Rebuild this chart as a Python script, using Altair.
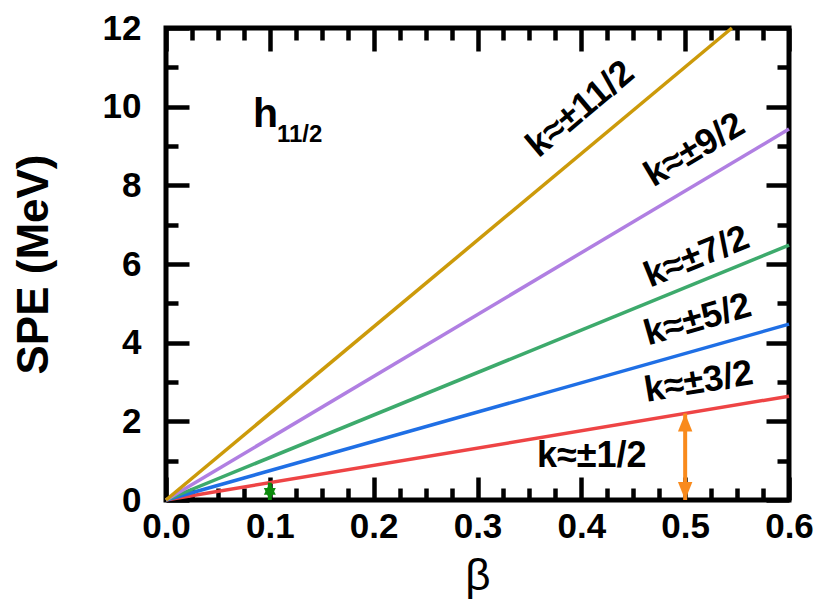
import altair as alt
import pandas as pd

# ---------------- data ----------------
line_k = ["3/2", "5/2", "7/2", "9/2", "11/2"]
line_beta_end = [0.6, 0.6, 0.6, 0.6, 0.545]
line_spe_end = [2.64, 4.47, 6.48, 9.43, 12.0]
line_colors = ["#EE4445", "#1F6FE5", "#3DAA6C", "#B07FE2", "#CC9A0A"]

label_text = ["k≈±11/2", "k≈±9/2", "k≈±7/2", "k≈±5/2", "k≈±3/2", "k≈±1/2"]
label_beta = [0.399, 0.509, 0.511, 0.512, 0.513, 0.410]
label_spe = [9.94, 8.90, 6.18, 4.58, 3.00, 1.12]
label_angle = [320, 329, 338, 344, 350.5, 0]

orange_beta = [0.5]
orange_low = [0.0]
orange_high = [2.2]
green_beta = [0.1]
green_low = [0.0]
green_high = [0.44]

x_major = [0.0, 0.1, 0.2, 0.3, 0.4, 0.5, 0.6]
x_minor = [0.025, 0.05, 0.075, 0.125, 0.15, 0.175, 0.225, 0.25, 0.275,
           0.325, 0.35, 0.375, 0.425, 0.45, 0.475, 0.525, 0.55, 0.575]
y_major = [0, 2, 4, 6, 8, 10, 12]
y_minor = [1, 3, 5, 7, 9, 11]

# ---------------- layout ----------------
W, H = 623, 472
FONT = "Liberation Sans"
MAJ, MIN = 23, 12
TW = 4.5

xs = alt.Scale(domain=[0.0, 0.6], nice=False, zero=False)
ys = alt.Scale(domain=[0.0, 12.0], nice=False, zero=False)

label_style = dict(labelFont=FONT, labelFontSize=35, labelFontWeight="bold",
                   labelColor="black", titleFont=FONT, titleColor="black")
tick_style = dict(domain=False, grid=False, ticks=True, tickColor="black",
                  tickWidth=TW, tickOpacity=1)


def tick_axis(orient, vals, length):
    # ticks point inward: axis line moved inside the frame by the tick length
    return alt.Axis(orient=orient, values=vals, tickSize=length, offset=-length,
                    labels=False, title=None, **tick_style)


xb_major = alt.Axis(orient="bottom", values=x_major, format=".1f", title="β",
                    tickSize=MAJ, offset=-MAJ, labelPadding=9, labelFlush=False,
                    titlePadding=10, titleFontSize=44, titleFontWeight="normal",
                    **tick_style, **label_style)
yl_major = alt.Axis(orient="left", values=y_major, format="d", title="SPE (MeV)",
                    tickSize=MAJ, offset=-MAJ, labelPadding=25,
                    titlePadding=46, titleFontSize=44, titleFontWeight="bold",
                    **tick_style, **label_style)
xb_minor = tick_axis("bottom", x_minor, MIN)
yl_minor = tick_axis("left", y_minor, MIN)
xt_major = tick_axis("top", x_major, MAJ)
yr_major = tick_axis("right", y_major, MAJ)
xt_minor = tick_axis("top", x_minor, MIN)
yr_minor = tick_axis("right", y_minor, MIN)

rows = []
for k, xe, ye, c in zip(line_k, line_beta_end, line_spe_end, line_colors):
    rows.append({"k": k, "beta": 0.0, "spe": 0.0, "c": c})
    rows.append({"k": k, "beta": xe, "spe": ye, "c": c})
lines_df = pd.DataFrame(rows)

lines = alt.Chart(lines_df).mark_line(strokeWidth=3.5).encode(
    x=alt.X("beta:Q", scale=xs, axis=xb_major),
    y=alt.Y("spe:Q", scale=ys, axis=yl_major),
    color=alt.Color("c:N", scale=None),
    detail="k:N",
)

lab_df = pd.DataFrame({"beta": label_beta, "spe": label_spe, "t": label_text, "a": label_angle})
labels = alt.Chart(lab_df).mark_text(font=FONT, fontSize=36, fontWeight="bold",
                                     color="black", align="center", baseline="middle").encode(
    x=alt.X("beta:Q", scale=xs, axis=xb_minor),
    y=alt.Y("spe:Q", scale=ys, axis=yl_minor),
    text="t:N",
    angle=alt.Angle("a:Q", scale=None),
)

h_df = pd.DataFrame({"beta": [0.0838], "spe": [9.48], "t": ["h"]})
h_text = alt.Chart(h_df).mark_text(font=FONT, fontSize=41, fontWeight="bold", color="black",
                                   align="left", baseline="alphabetic").encode(
    x=alt.X("beta:Q", scale=xs, axis=xt_major),
    y=alt.Y("spe:Q", scale=ys, axis=yr_major),
    text="t:N")
sub_df = pd.DataFrame({"beta": [0.1069], "spe": [9.10], "t": ["11/2"]})
sub_text = alt.Chart(sub_df).mark_text(font=FONT, fontSize=24, fontWeight="bold", color="black",
                                       align="left", baseline="alphabetic").encode(
    x=alt.X("beta:Q", scale=xs, axis=xt_minor),
    y=alt.Y("spe:Q", scale=ys, axis=yr_minor),
    text="t:N")

UP = "M0,-1L0.8,1L-0.8,1Z"
DOWN = "M0,1L0.8,-1L-0.8,-1Z"
UPG = "M0,-1L1,1L-1,1Z"
DOWNG = "M0,1L1,-1L-1,-1Z"


def arrow(bx, lo, hi, color, width, size, up, down, off):
    df = pd.DataFrame({"beta": bx, "lo": lo, "hi": hi})
    base = alt.Chart(df)
    xe = alt.X("beta:Q", scale=xs, axis=None)
    shaft = base.mark_rule(color=color, strokeWidth=width).encode(
        x=xe, y=alt.Y("lo:Q", scale=ys, axis=None), y2="hi:Q")
    top = base.mark_point(shape=up, filled=True, color=color, opacity=1, size=size,
                          yOffset=off).encode(x=xe, y=alt.Y("hi:Q", scale=ys, axis=None))
    bot = base.mark_point(shape=down, filled=True, color=color, opacity=1, size=size,
                          yOffset=-off).encode(x=xe, y=alt.Y("lo:Q", scale=ys, axis=None))
    return [shaft, top, bot]


orange = arrow(orange_beta, orange_low, orange_high, "#F98A1C", 4, 324, UP, DOWN, 9)
green = arrow(green_beta, green_low, green_high, "#0C8A0C", 4, 144, UPG, DOWNG, 6)

chart = alt.layer(lines, labels, h_text, sub_text, *orange, *green).resolve_axis(
    x="independent", y="independent"
).properties(
    width=W, height=H,
    padding={"left": 166, "top": 28, "right": 29, "bottom": 114},
    autosize=alt.AutoSizeParams(type="none"),
).configure_view(
    stroke="black", strokeWidth=5
)

chart.save("out.html", embed_options={"renderer": "svg", "actions": False})
